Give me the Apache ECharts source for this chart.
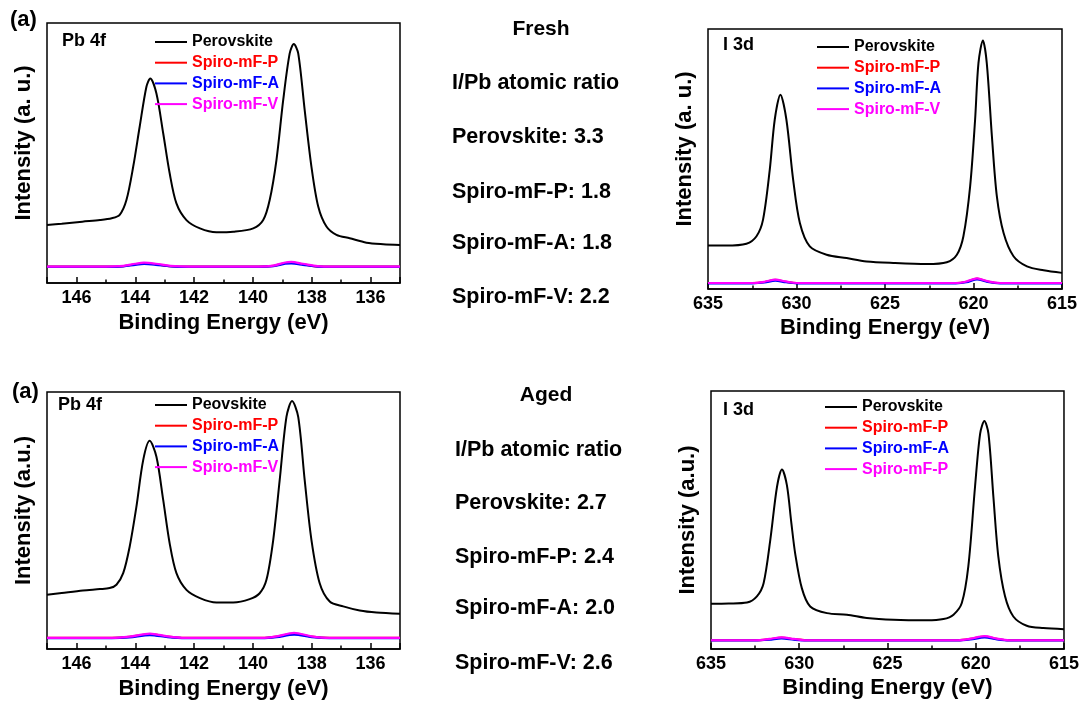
<!DOCTYPE html>
<html>
<head>
<meta charset="utf-8">
<script src="https://cdn.jsdelivr.net/npm/echarts@6/dist/echarts.min.js"></script>
<style>html,body{margin:0;padding:0;background:#fff}#c{width:1082px;height:704px}</style>
</head>
<body>
<div id="c"></div>
<script>
// ---------- DATA ----------
// Fresh, Pb 4f
const freshPbPerovskite = [[147,22.3],[146.5,22.8],[145.8,23.6],[145.2,24.2],[144.8,24.9],[144.53,26.2],[144.3,31.9],[144.07,44.7],[143.85,60.1],[143.62,75.5],[143.49,78.7],[143.28,72.9],[143.05,57.6],[142.83,42.2],[142.6,30.6],[142.26,24.2],[141.8,21],[141.24,19.5],[140.67,19.7],[139.99,21],[139.65,24.2],[139.43,31.9],[139.2,47.3],[138.97,70.4],[138.75,88.3],[138.61,91.9],[138.46,88.3],[138.24,66.5],[138.01,44.7],[137.78,29.4],[137.5,21.7],[137.16,18.5],[136.71,17.2],[136.14,15.5],[135.57,14.9],[135,14.6]];
const freshPbP = [[147,6.3],[145,6.3],[144.4,6.5],[144,7.2],[143.7,7.6],[143.3,7.2],[142.8,6.5],[142.2,6.3],[139.8,6.3],[139.3,6.6],[138.9,7.7],[138.7,7.8],[138.3,7.2],[137.8,6.4],[137.3,6.3],[135,6.3]];
const freshPbA = [[147,6.2],[145,6.2],[144.4,6.4],[144,7.0],[143.7,7.3],[143.3,7.0],[142.8,6.4],[142.2,6.2],[139.8,6.2],[139.3,6.5],[138.9,7.4],[138.7,7.5],[138.3,7.0],[137.8,6.3],[137.3,6.2],[135,6.2]];
const freshPbV = [[147,6.3],[145,6.3],[144.4,6.6],[144,7.4],[143.7,7.8],[143.3,7.4],[142.8,6.6],[142.2,6.3],[139.8,6.3],[139.3,6.7],[138.9,7.9],[138.7,8.1],[138.3,7.4],[137.8,6.5],[137.3,6.3],[135,6.3]];
// Fresh, I 3d
const freshIPerovskite = [[635,16.7],[634,16.7],[632.83,17.4],[632.26,20.3],[631.89,26.7],[631.51,45.9],[631.23,65.1],[630.91,74.7],[630.57,65.1],[630.19,42.1],[629.81,25.4],[629.25,16.4],[628.3,13.2],[627.17,11.9],[626.04,10.6],[624.53,10],[622.64,9.6],[621.51,10.3],[620.94,13.2],[620.57,20.3],[620.19,39.5],[619.91,65.1],[619.72,86.9],[619.47,95.6],[619.25,86.9],[618.96,58.7],[618.68,35.6],[618.3,21.5],[617.74,12.6],[616.98,8.7],[616.04,7.2],[615,6.2]];
const freshIP = [[635,2.3],[632.5,2.3],[631.8,2.7],[631.2,3.5],[630.6,2.8],[630,2.3],[621,2.3],[620.4,2.8],[619.8,4.0],[619.2,2.9],[618.5,2.3],[615,2.3]];
const freshIA = [[635,2.2],[632.5,2.2],[631.8,2.5],[631.2,3.2],[630.6,2.6],[630,2.2],[621,2.2],[620.4,2.6],[619.8,3.7],[619.2,2.7],[618.5,2.2],[615,2.2]];
const freshIV = [[635,2.3],[632.5,2.3],[631.8,2.8],[631.2,3.6],[630.6,2.9],[630,2.3],[621,2.3],[620.4,2.9],[619.8,4.1],[619.2,3.0],[618.5,2.3],[615,2.3]];
// Aged, Pb 4f
const agedPbPerovskite = [[147,21.1],[146.5,21.8],[145.78,22.8],[145.2,23.3],[144.87,23.7],[144.64,25],[144.41,29.5],[144.19,39.8],[143.96,55.4],[143.73,73.5],[143.51,81],[143.28,74.8],[143.05,58],[142.83,41.1],[142.6,29.5],[142.26,23],[141.8,19.8],[141.24,18.1],[140.67,18.1],[140.11,19.4],[139.77,21.7],[139.54,26.9],[139.31,42.4],[139.09,65.7],[138.86,90.3],[138.67,96.5],[138.46,90.3],[138.24,65.7],[138.01,42.4],[137.73,25.6],[137.39,18.5],[136.93,16.6],[136.37,15],[135.8,14.2],[135,13.7]];
const agedPbP = [[147,4.3],[144.8,4.3],[144.2,4.7],[143.5,5.8],[142.9,4.8],[142.3,4.3],[139.7,4.3],[139.2,4.8],[138.6,6.0],[138.0,4.8],[137.4,4.3],[135,4.3]];
const agedPbA = [[147,4.2],[144.8,4.2],[144.2,4.5],[143.5,5.4],[142.9,4.6],[142.3,4.2],[139.7,4.2],[139.2,4.6],[138.6,5.6],[138.0,4.6],[137.4,4.2],[135,4.2]];
const agedPbV = [[147,4.3],[144.8,4.3],[144.2,4.8],[143.5,6.0],[142.9,4.9],[142.3,4.3],[139.7,4.3],[139.2,4.9],[138.6,6.3],[138.0,4.9],[137.4,4.3],[135,4.3]];
// Aged, I 3d
const agedIPerovskite = [[635,17.5],[634,17.6],[632.96,18],[632.4,20.4],[632.02,25.5],[631.64,42.3],[631.26,62.9],[630.98,69.6],[630.7,63.5],[630.45,49],[630.23,37],[629.85,23.5],[629.38,16.5],[628.43,13.9],[627.3,13.3],[626.17,12],[624.66,11.3],[622.77,11.1],[621.83,11.6],[621.26,13.3],[620.79,17.8],[620.42,32],[620.04,62.9],[619.75,83.5],[619.51,88.4],[619.28,83.5],[619,59],[618.72,35.8],[618.34,20.4],[617.87,12.6],[617.11,9],[616.17,8.1],[615,7.7]];
const agedIP = [[635,3.4],[632.5,3.4],[631.7,3.8],[631,4.4],[630.3,3.8],[629.6,3.4],[621,3.4],[620.3,3.9],[619.5,4.8],[618.8,3.9],[618.1,3.4],[615,3.4]];
const agedIA = [[635,3.3],[632.5,3.3],[631.7,3.6],[631,4.1],[630.3,3.6],[629.6,3.3],[621,3.3],[620.3,3.7],[619.5,4.5],[618.8,3.7],[618.1,3.3],[615,3.3]];
const agedIV = [[635,3.4],[632.5,3.4],[631.7,3.9],[631,4.5],[630.3,3.9],[629.6,3.4],[621,3.4],[620.3,4.0],[619.5,5.0],[618.8,4.0],[618.1,3.4],[615,3.4]];

const panelTitles = ['Pb 4f', 'I 3d', 'Pb 4f', 'I 3d'];
const legendNames = [
  ['Perovskite', 'Spiro-mF-P', 'Spiro-mF-A', 'Spiro-mF-V'],
  ['Perovskite', 'Spiro-mF-P', 'Spiro-mF-A', 'Spiro-mF-V'],
  ['Peovskite', 'Spiro-mF-P', 'Spiro-mF-A', 'Spiro-mF-V'],
  ['Perovskite', 'Spiro-mF-P', 'Spiro-mF-A', 'Spiro-mF-P']
];
const yTitles = ['Intensity (a. u.)', 'Intensity (a. u.)', 'Intensity (a.u.)', 'Intensity (a.u.)'];
const xTitle = 'Binding Energy (eV)';
const xRanges = [[135, 147], [615, 635], [135, 147], [615, 635]];
const conditionTitles = ['Fresh', 'Aged'];
const ratioHeader = 'I/Pb atomic ratio';
const ratioLabels = ['Perovskite', 'Spiro-mF-P', 'Spiro-mF-A', 'Spiro-mF-V'];
const freshRatios = ['3.3', '1.8', '1.8', '2.2'];
const agedRatios = ['2.7', '2.4', '2.0', '2.6'];

const panelData = [
  [freshPbPerovskite, freshPbP, freshPbA, freshPbV],
  [freshIPerovskite, freshIP, freshIA, freshIV],
  [agedPbPerovskite, agedPbP, agedPbA, agedPbV],
  [agedIPerovskite, agedIP, agedIA, agedIV]
];

// ---------- STYLE / LAYOUT ----------
const FONT = '"Liberation Sans", Arial, sans-serif';
const lineColors = ['#000000', '#ff0000', '#0000ff', '#ff00ff'];
const textColors = ['#000000', '#ff0000', '#0000ff', '#ff00ff'];
const grids = [
  {left: 47, top: 23, width: 353, height: 260},
  {left: 708, top: 29, width: 354, height: 260},
  {left: 47, top: 392, width: 353, height: 257},
  {left: 711, top: 391, width: 353, height: 258}
];
const legendPos = [[155, 34], [817, 39], [155, 397], [825, 399]];
const titlePos = [[62, 43], [723, 47], [58, 407], [723, 412]];

const seriesName = (i, k) => legendNames[i][k] + '#' + i + '_' + k;

const option = {
  animation: false,
  backgroundColor: '#fff',
  grid: grids.map(g => Object.assign({show: true, borderColor: '#000', borderWidth: 1.5, containLabel: false}, g)),
  xAxis: grids.map((g, i) => {
    const isPb = i % 2 === 0;
    const ax = {
      type: 'value', gridIndex: i, inverse: true,
      min: xRanges[i][0], max: xRanges[i][1],
      name: xTitle, nameLocation: 'middle', nameGap: isPb ? 29 : 28,
      nameTextStyle: {fontFamily: FONT, fontWeight: 'bold', fontSize: 22, color: '#000'},
      axisLine: {show: true, lineStyle: {color: '#000', width: 1.5}},
      axisTick: {show: true, inside: true, length: 6, lineStyle: {color: '#000', width: 1.5}},
      minorTick: {show: true, splitNumber: 2, length: 3.5, lineStyle: {color: '#000', width: 1.5}},
      splitLine: {show: false},
      axisLabel: {fontFamily: FONT, fontWeight: 'bold', fontSize: 18, color: '#000', margin: 6}
    };
    if (isPb) {
      ax.splitNumber = 6; ax.minInterval = 2; ax.maxInterval = 2;
      ax.axisLabel.showMinLabel = false; ax.axisLabel.showMaxLabel = false;
    } else {
      ax.interval = 5;
    }
    return ax;
  }),
  yAxis: grids.map((g, i) => ({
    type: 'value', gridIndex: i, min: 0, max: 100,
    name: yTitles[i], nameLocation: 'middle', nameGap: 12,
    nameTextStyle: {fontFamily: FONT, fontWeight: 'bold', fontSize: 22, color: '#000', padding: [0, 0, 0, i === 3 ? 0 : 20]},
    axisLine: {show: false}, axisTick: {show: false}, axisLabel: {show: false}, splitLine: {show: false}
  })),
  legend: grids.map((g, i) => ({
    orient: 'vertical', left: legendPos[i][0], top: legendPos[i][1], padding: 0,
    icon: 'rect', itemWidth: 32, itemHeight: 2, itemGap: 4.7, selectedMode: false,
    data: legendNames[i].map((n, k) => ({name: seriesName(i, k), textStyle: {color: textColors[k]}})),
    formatter: name => name.split('#')[0],
    textStyle: {fontFamily: FONT, fontWeight: 'bold', fontSize: 16, lineHeight: 16}
  })),
  series: [],
  graphic: []
};

panelData.forEach((sets, i) => {
  sets.forEach((d, k) => {
    option.series.push({
      type: 'line', name: seriesName(i, k),
      xAxisIndex: i, yAxisIndex: i, data: d,
      symbol: 'none', smooth: 0.3,
      lineStyle: {color: lineColors[k], width: k === 0 ? 2 : 2.2},
      itemStyle: {color: lineColors[k]},
      z: 2 + k
    });
  });
  option.graphic.push({
    type: 'text', left: titlePos[i][0], top: titlePos[i][1] - 11,
    style: {text: panelTitles[i], font: 'bold 18px ' + FONT, fill: '#000'}
  });
});

option.graphic.push(
  {type: 'text', left: 10, top: 9, style: {text: '(a)', font: 'bold 22px ' + FONT, fill: '#000'}},
  {type: 'text', left: 12, top: 381, style: {text: '(a)', font: 'bold 22px ' + FONT, fill: '#000'}}
);

function addColumn(cx, title, titleY, x, ys, values) {
  option.graphic.push({type: 'text', x: cx, y: titleY,
    style: {text: title, font: 'bold 21px ' + FONT, fill: '#000', align: 'center', verticalAlign: 'middle'}});
  option.graphic.push({type: 'text', x: x, y: ys[0],
    style: {text: ratioHeader, font: 'bold 21.5px ' + FONT, fill: '#000', align: 'left', verticalAlign: 'middle'}});
  ratioLabels.forEach((l, k) => {
    option.graphic.push({type: 'text', x: x, y: ys[k + 1],
      style: {text: l + ': ' + values[k], font: 'bold 21.5px ' + FONT, fill: '#000', align: 'left', verticalAlign: 'middle'}});
  });
}
addColumn(541, conditionTitles[0], 29, 452, [83, 137, 192, 243, 297], freshRatios);
addColumn(546, conditionTitles[1], 395, 455, [450, 503, 557, 608, 663], agedRatios);

const chart = echarts.init(document.getElementById('c'), null, {renderer: 'canvas'});
chart.setOption(option);
</script>
</body>
</html>
